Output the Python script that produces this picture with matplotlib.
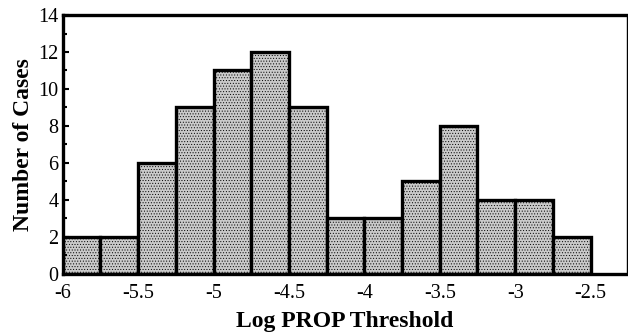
import matplotlib.pyplot as plt
from matplotlib.ticker import MultipleLocator

# histogram bins (left edges) and counts
bin_left = [-6.0, -5.75, -5.5, -5.25, -5.0, -4.75, -4.5,
            -4.25, -4.0, -3.75, -3.5, -3.25, -3.0, -2.75]
bin_width = 0.25
counts = [2, 2, 6, 9, 11, 12, 9, 3, 3, 5, 8, 4, 4, 2]
xticks = [-6, -5.5, -5, -4.5, -4, -3.5, -3, -2.5]
xticklabels = ["-6", "-5.5", "-5", "-4.5", "-4", "-3.5", "-3", "-2.5"]

plt.rcParams["font.family"] = ["Liberation Serif", "DejaVu Serif"]
plt.rcParams["hatch.color"] = "#b2b2b2"
plt.rcParams["hatch.linewidth"] = 0.4

fig = plt.figure(figsize=(6.28, 3.34), dpi=100)
ax = fig.add_axes([0.100, 0.180, 0.898, 0.775])

ax.bar(bin_left, counts, width=bin_width, align="edge",
       facecolor="#cacaca", edgecolor="black", linewidth=2.4, hatch="......")

ax.set_xlim(-6, -2.26)
ax.set_ylim(0, 14)
ax.set_xticks(xticks)
ax.set_xticklabels(xticklabels)
ax.yaxis.set_major_locator(MultipleLocator(2))
ax.yaxis.set_minor_locator(MultipleLocator(1))
ax.tick_params(axis="x", length=0, pad=7, labelsize=14.5)
ax.tick_params(axis="y", which="both", direction="in", width=1.5,
               labelsize=14.5, pad=3)
ax.tick_params(axis="y", which="major", length=4)
ax.tick_params(axis="y", which="minor", length=3)
ax.tick_params(axis="y", right=False)

for side in ["left", "bottom", "top"]:
    ax.spines[side].set_linewidth(2.4)
ax.spines["right"].set_linewidth(1.0)

ax.set_xlabel("Log PROP Threshold", fontsize=17, fontweight="bold", labelpad=6)
ax.set_ylabel("Number of Cases", fontsize=17, fontweight="bold", labelpad=3)

fig.savefig("out.png", dpi=100)
